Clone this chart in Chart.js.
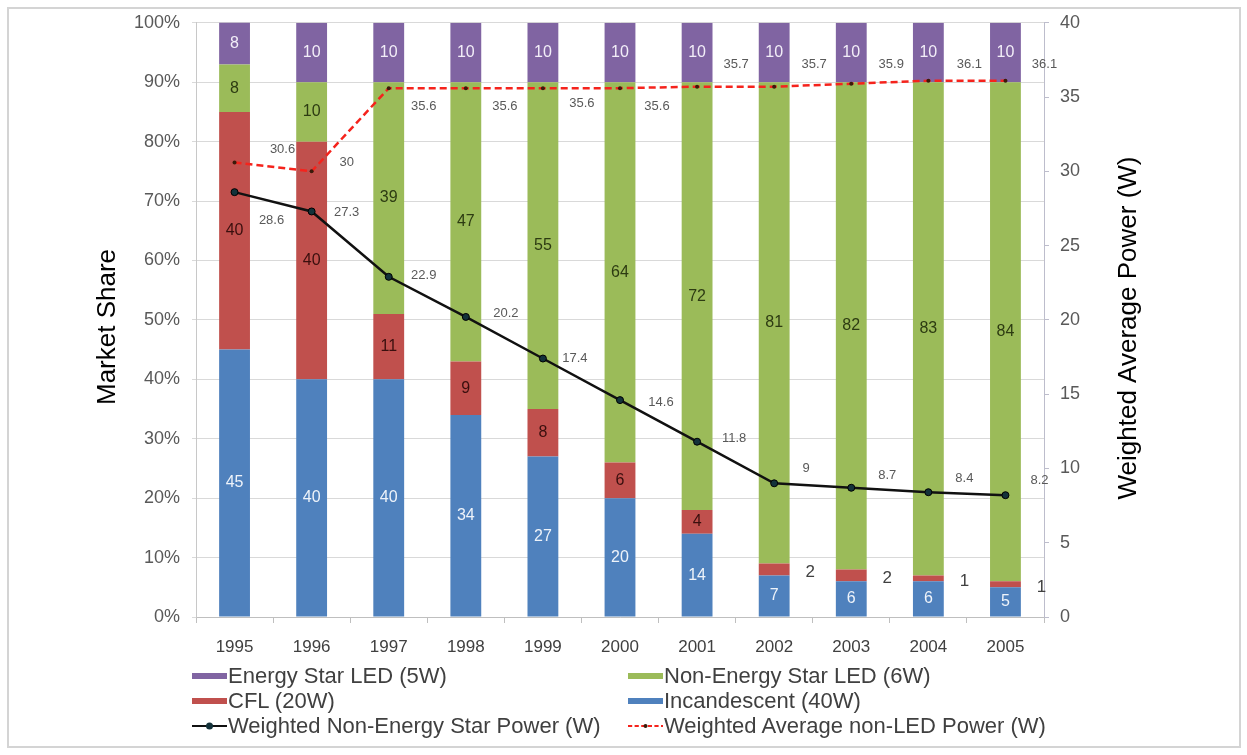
<!DOCTYPE html>
<html>
<head>
<meta charset="utf-8">
<script src="https://cdn.jsdelivr.net/npm/chart.js@4/dist/chart.umd.min.js"></script>
<style>
  html, body { margin: 0; padding: 0; background: #fff; }
  #wrap { position: relative; width: 1247px; height: 755px; overflow: hidden; }
  #chart { position: absolute; left: 0; top: 0; }
  .item { position: absolute; white-space: nowrap; height: 24px; line-height: 24px;
          font-family: Arial, "Liberation Sans", sans-serif; font-size: 22px; color: #404040; }
  .item .key { position: absolute; left: 0; top: 7px; width: 35px; height: 10px; }
  .item span { position: absolute; left: 36px; top: 0; }
</style>
</head>
<body>
<div id="wrap">
  <canvas id="chart" width="1247" height="755"></canvas>
  <div id="legend"></div>
</div>
<script>
var years = ['1995', '1996', '1997', '1998', '1999', '2000', '2001', '2002', '2003', '2004', '2005'];

// market share, %
var incandescent = [45, 40, 40, 34, 27, 20, 14, 7, 6, 6, 5];
var cfl = [40, 40, 11, 9, 8, 6, 4, 2, 2, 1, 1];
var nonStarLed = [8, 10, 39, 47, 55, 64, 72, 81, 82, 83, 84];
var starLed = [8, 10, 10, 10, 10, 10, 10, 10, 10, 10, 10];

// weighted power, W
var nonStarPower = [28.6, 27.3, 22.9, 20.2, 17.4, 14.6, 11.8, 9, 8.7, 8.4, 8.2];
var nonLedPower = [30.6, 30, 35.6, 35.6, 35.6, 35.6, 35.7, 35.7, 35.9, 36.1, 36.1];

// where the line value labels sit relative to their point
var nonStarLabelDx = [37, 35, 35, 40, 32, 41, 37, 32, 36, 36, 34];
var nonStarLabelDy = [28, 1, -1, -4, 0, 2, -3, -15, -12, -14, -15];
var nonLedLabelDx = [48, 35, 35, 39, 39, 37, 39, 40, 40, 41, 39];
var nonLedLabelDy = [-13, -9, 18, 18, 15, 18, -22, -22, -19, -16, -16];

var FONT = 'Arial, "Liberation Sans", sans-serif';

var valueLabels = {
    id: 'valueLabels',
    afterDatasetsDraw: function(chart) {
        var ctx = chart.ctx;
        var area = chart.chartArea;
        ctx.save();
        ctx.textAlign = 'center';
        ctx.textBaseline = 'middle';
        chart.data.datasets.forEach(function(ds, i) {
            var meta = chart.getDatasetMeta(i);
            meta.data.forEach(function(el, j) {
                var v = ds.data[j];
                if (ds.type === 'line') {
                    ctx.font = '13px ' + FONT;
                    ctx.fillStyle = '#595959';
                    ctx.fillText(String(v), el.x + ds.labelDx[j], el.y + ds.labelDy[j]);
                    return;
                }
                var top = Math.max(el.y, area.top);
                var mid = (top + el.base) / 2;
                if (v < 3) {
                    // thin slices get their label beside the bar
                    ctx.font = '17px ' + FONT;
                    ctx.fillStyle = '#404040';
                    ctx.fillText(String(v), el.x + 36, mid + 3);
                } else {
                    ctx.font = '16px ' + FONT;
                    ctx.fillStyle = ds.labelColor;
                    ctx.fillText(String(v), el.x, mid);
                }
            });
        });
        ctx.restore();
    }
};

var frameAndTitles = {
    id: 'frameAndTitles',
    beforeDraw: function(chart) {
        var ctx = chart.ctx;
        ctx.save();
        ctx.fillStyle = '#fff';
        ctx.fillRect(0, 0, chart.width, chart.height);
        ctx.strokeStyle = '#d4d4d4';
        ctx.lineWidth = 2;
        ctx.strokeRect(8, 8, 1232, 739);
        ctx.restore();
    },
    afterDraw: function(chart) {
        var ctx = chart.ctx;
        ctx.save();
        ctx.font = '26px ' + FONT;
        ctx.fillStyle = '#000';
        ctx.textAlign = 'center';
        ctx.textBaseline = 'middle';
        [['Market Share', 108, 327], ['Weighted Average Power (W)', 1129, 328]].forEach(function(t) {
            ctx.save();
            ctx.translate(t[1], t[2]);
            ctx.rotate(-Math.PI / 2);
            ctx.fillText(t[0], 0, 0);
            ctx.restore();
        });
        ctx.restore();
    }
};

function barSet(label, data, color, labelColor) {
    return {
        type: 'bar', label: label, data: data, backgroundColor: color,
        labelColor: labelColor, yAxisID: 'y', order: 2,
        barPercentage: 0.4, categoryPercentage: 1.0
    };
}

var datasets = [
    barSet('Incandescent (40W)', incandescent, '#4F81BD', '#eef3fa'),
    barSet('CFL (20W)', cfl, '#C0504D', '#3a0f0e'),
    barSet('Non-Energy Star LED (6W)', nonStarLed, '#9BBB59', '#2d3b12'),
    barSet('Energy Star LED (5W)', starLed, '#8064A2', '#f2eef8'),
    {
        type: 'line', label: 'Weighted Non-Energy Star Power (W)', data: nonStarPower,
        yAxisID: 'y1', order: 1, borderColor: '#111', borderWidth: 2.5,
        pointRadius: 3.5, pointBackgroundColor: '#13323a', pointBorderColor: '#000', pointBorderWidth: 1,
        labelDx: nonStarLabelDx, labelDy: nonStarLabelDy
    },
    {
        type: 'line', label: 'Weighted Average non-LED Power (W)', data: nonLedPower,
        yAxisID: 'y1', order: 0, borderColor: '#f5231c', borderWidth: 2.5, borderDash: [7, 4],
        pointRadius: 2, pointBackgroundColor: '#3a1a0a', pointBorderColor: '#3a1a0a', pointBorderWidth: 0,
        labelDx: nonLedLabelDx, labelDy: nonLedLabelDy
    }
];

var chart = new Chart(document.getElementById('chart'), {
    data: { labels: years, datasets: datasets },
    plugins: [frameAndTitles, valueLabels],
    options: {
        responsive: false,
        animation: false,
        devicePixelRatio: 1,
        layout: { padding: { top: 20, left: 0, right: 0, bottom: 0 } },
        plugins: { legend: { display: false }, tooltip: { enabled: false } },
        scales: {
            x: {
                stacked: true,
                grid: { drawOnChartArea: false, drawTicks: true, tickLength: 6, color: '#bfbfbf', offset: true },
                border: { color: '#bfbfbf' },
                ticks: { color: '#404040', font: { size: 17, family: FONT }, padding: 14, maxRotation: 0 },
                afterFit: function(s) { s.height = 138; }
            },
            y: {
                stacked: true, position: 'left', min: 0, max: 100,
                grid: { color: '#d9d9d9', tickLength: 4 },
                border: { color: '#c8c8c8' },
                ticks: { stepSize: 10, color: '#595959', font: { size: 18, family: FONT }, padding: 12,
                         callback: function(v) { return v + '%'; } },
                afterFit: function(s) { s.width = 196; }
            },
            y1: {
                position: 'right', min: 0, max: 40,
                grid: { drawOnChartArea: false, tickLength: 5, color: '#bdbdcc' },
                border: { color: '#bdbdcc' },
                ticks: { stepSize: 5, color: '#595959', font: { size: 18, family: FONT }, padding: 11 },
                afterFit: function(s) { s.width = 203; }
            }
        }
    }
});

// two-column legend under the plot
var legendRows = [[3, 2], [1, 0], [4, 5]];
var legendX = [192, 628];
var legendY = [676, 701, 726];
var legendBox = document.getElementById('legend');
legendRows.forEach(function(row, r) {
    row.forEach(function(idx, c) {
        var ds = datasets[idx];
        var item = document.createElement('div');
        item.className = 'item';
        item.style.left = legendX[c] + 'px';
        item.style.top = (legendY[r] - 12) + 'px';
        var key;
        if (ds.type === 'bar') {
            key = '<svg class="key"><rect x="0" y="2" width="35" height="6" fill="' + ds.backgroundColor + '"/></svg>';
        } else {
            var dash = ds.borderDash ? ' stroke-dasharray="' + ds.borderDash.map(function(d) { return d * 0.6; }).join(',') + '"' : '';
            key = '<svg class="key"><line x1="0" y1="5" x2="35" y2="5" stroke="' + ds.borderColor + '" stroke-width="2"' + dash + '/>' +
                  '<circle cx="17.5" cy="5" r="' + ds.pointRadius + '" fill="' + ds.pointBackgroundColor + '"/></svg>';
        }
        item.innerHTML = key + '<span>' + ds.label + '</span>';
        legendBox.appendChild(item);
    });
});
</script>
</body>
</html>
